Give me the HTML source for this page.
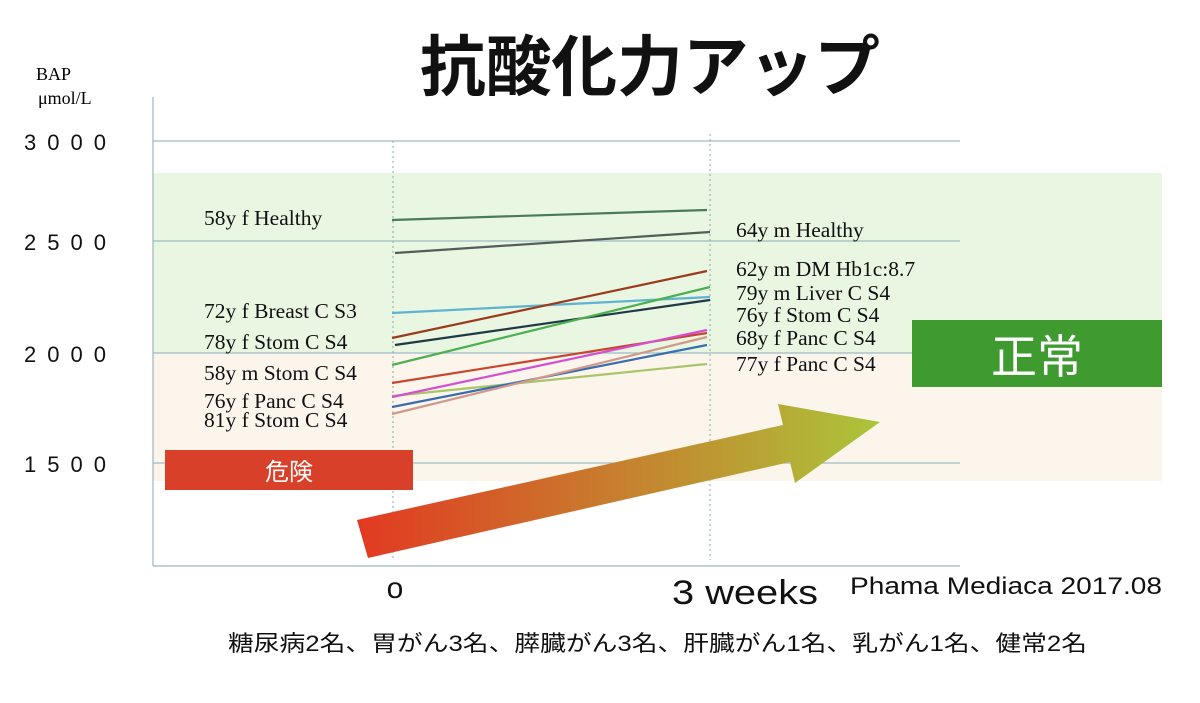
<!DOCTYPE html>
<html><head><meta charset="utf-8"><style>
body{margin:0;background:#fff;width:1200px;height:698px;overflow:hidden}
svg text{font-family:"Liberation Serif","Noto Serif CJK SC",serif}
svg text.s, svg .s text{font-family:"Liberation Sans","Noto Sans CJK JP",sans-serif}
</style></head><body>
<svg width="1200" height="698" viewBox="0 0 1200 698">
<defs><linearGradient id="g" x1="360" y1="0" x2="880" y2="0" gradientUnits="userSpaceOnUse">
<stop offset="0" stop-color="#e23a22"/><stop offset="1" stop-color="#abc53a"/></linearGradient></defs>
<rect x="153" y="173" width="1009" height="180" fill="#e8f6e2"/>
<rect x="153" y="353" width="1009" height="128" fill="#fbf5ec"/>
<g stroke="#9fbcc4" stroke-width="1.2">
<line x1="153" y1="141" x2="960" y2="141"/><line x1="153" y1="241" x2="960" y2="241"/>
<line x1="153" y1="353" x2="960" y2="353"/><line x1="153" y1="463" x2="960" y2="463"/>
</g>
<line x1="153" y1="97" x2="153" y2="566" stroke="#9fb3bb" stroke-width="1.2"/>
<line x1="153" y1="566" x2="960" y2="566" stroke="#9fb3bb" stroke-width="1.2"/>
<g stroke="#8aa" stroke-dasharray="2,3" stroke-width="1"><line x1="393" y1="141" x2="393" y2="560"/><line x1="710" y1="134" x2="710" y2="560"/></g>
<g stroke-width="2.2" fill="none">
<line x1="392" y1="220" x2="707" y2="210" stroke="#4a7a58"/>
<line x1="395" y1="253" x2="710" y2="232" stroke="#555c5a"/>
<line x1="392" y1="313" x2="710" y2="297" stroke="#5fb3d0"/>
<line x1="392" y1="338" x2="707" y2="271" stroke="#9c3a1e"/>
<line x1="395" y1="345" x2="710" y2="300" stroke="#1f3a44"/>
<line x1="392" y1="365" x2="710" y2="287" stroke="#4caf50"/>
<line x1="392" y1="383" x2="707" y2="333" stroke="#c8452e"/>
<line x1="392" y1="396" x2="707" y2="364" stroke="#a8c56a"/>
<line x1="392" y1="397" x2="707" y2="330" stroke="#d44fd0"/>
<line x1="392" y1="407" x2="707" y2="345" stroke="#3a6cb0"/>
<line x1="392" y1="414" x2="707" y2="337" stroke="#d09a8a"/>
</g>
<polygon points="357,520 783,425 778,404 880,422 795,483 790,462 368,558" fill="url(#g)"/>
<rect x="165" y="450" width="248" height="40" fill="#d8402a"/>
<text x="289" y="480" class="s" font-size="24" fill="#fff" text-anchor="middle">危険</text>
<rect x="912" y="320" width="250" height="67" fill="#3f9a2f"/>
<text x="1037" y="373" class="s" font-size="46" fill="#fff" text-anchor="middle">正常</text>
<text x="420" y="90" class="s" font-size="66" font-weight="bold" textLength="460" lengthAdjust="spacingAndGlyphs" fill="#111">抗酸化力アップ</text>
<text x="36" y="80" font-size="18">BAP</text><text x="38" y="104" font-size="18">μmol/L</text>
<g class="s" font-size="22" fill="#111" letter-spacing="11">
<text x="24" y="150">3000</text><text x="24" y="250">2500</text><text x="24" y="362">2000</text><text x="24" y="472">1500</text></g>
<g font-size="21.5" fill="#111">
<text x="204" y="225">58y f Healthy</text>
<text x="204" y="318">72y f Breast C  S3</text>
<text x="204" y="349">78y f Stom C  S4</text>
<text x="204" y="380">58y m Stom C  S4</text>
<text x="204" y="408">76y f Panc C  S4</text>
<text x="204" y="427">81y f Stom C  S4</text>
<text x="736" y="237">64y m Healthy</text>
<text x="736" y="276">62y m DM Hb1c:8.7</text>
<text x="736" y="300">79y m Liver C  S4</text>
<text x="736" y="322">76y f Stom C  S4</text>
<text x="736" y="345">68y f Panc C  S4</text>
<text x="736" y="371">77y f Panc C  S4</text>
</g>
<g class="s" fill="#111">
<text x="395" y="598" font-size="30" text-anchor="middle">o</text>
<text x="672" y="604" font-size="34" textLength="146" lengthAdjust="spacingAndGlyphs">3 weeks</text>
<text x="850" y="594" font-size="24" textLength="312" lengthAdjust="spacingAndGlyphs">Phama Mediaca 2017.08</text>
<text x="228" y="651" font-size="22" textLength="859" lengthAdjust="spacingAndGlyphs">糖尿病2名、胃がん3名、膵臓がん3名、肝臓がん1名、乳がん1名、健常2名</text>
</g>
</svg>
</body></html>
